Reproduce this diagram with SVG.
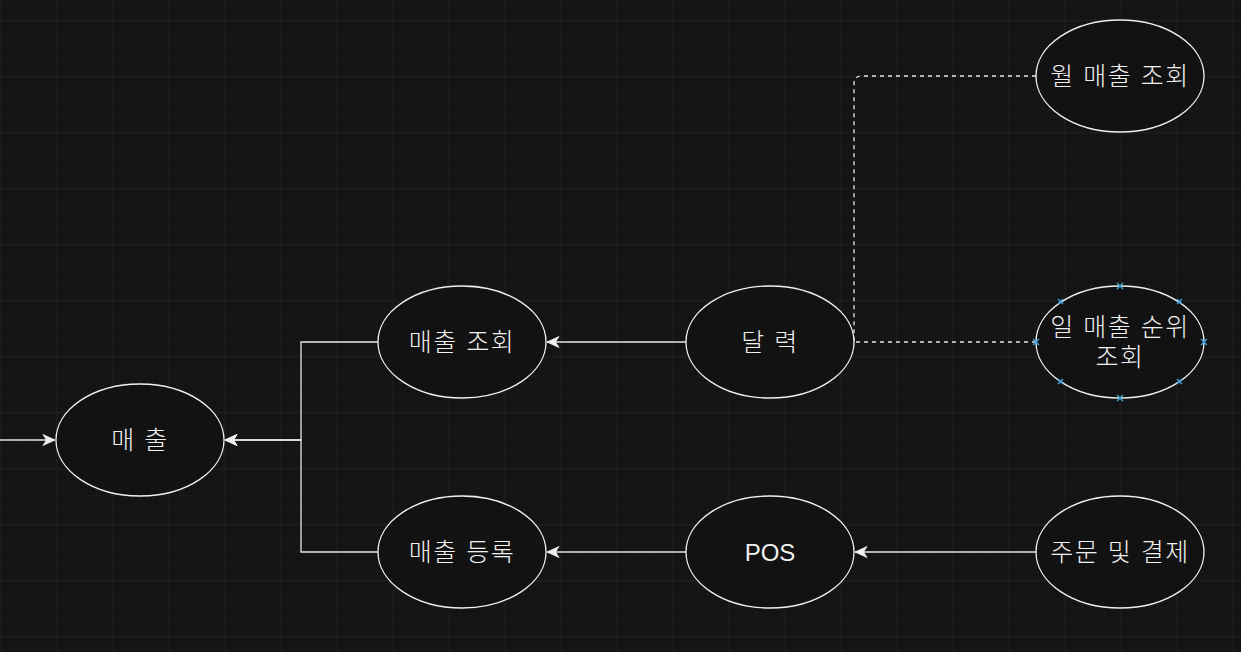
<svg xmlns="http://www.w3.org/2000/svg" width="1241" height="652" viewBox="0 0 1241 652">
<style>
.node ellipse{fill:#121212;stroke:#f0f0f0;stroke-width:1.3}
.node text{fill:#f0f0f0;font-family:"Liberation Sans","Noto Sans CJK KR",sans-serif;font-size:25px;font-weight:300;letter-spacing:1.5px;text-anchor:middle;dominant-baseline:central}
.node text.lat{font-size:24px;letter-spacing:0}
.edge{fill:none;stroke:#e6e6e6;stroke-width:1.3}
.dash{stroke-dasharray:4 4}
.sel{stroke:#3aa5e0;stroke-width:1.3;fill:none}
</style>
<defs>
<pattern id="minor" x="0" y="20" width="14" height="14" patternUnits="userSpaceOnUse">
<path d="M14 0V14M0 14H14" fill="none" stroke="#1c1c1c" stroke-width="1"/>
</pattern>
<pattern id="major" x="0.5" y="20.5" width="56" height="56" patternUnits="userSpaceOnUse">
<path d="M0 0V56M0 0H56" fill="none" stroke="#2c2c2c" stroke-width="1"/>
</pattern>
<marker id="arr" markerUnits="userSpaceOnUse" markerWidth="14" markerHeight="12" viewBox="0 0 14 12" refX="13" refY="6" orient="auto">
<path d="M13 6L1 0.5L4.5 6L1 11.5Z" fill="#f0f0f0" stroke="#f0f0f0" stroke-width="0.8"/>
</marker>
</defs>
<rect width="1241" height="652" fill="#141414"/>
<rect width="1241" height="652" fill="url(#minor)"/>
<rect width="1241" height="652" fill="url(#major)"/>
<g id="connectors">
<path class="edge" d="M0 440H55" marker-end="url(#arr)"/>
<path class="edge" d="M378 342H301V440H225" marker-end="url(#arr)"/>
<path class="edge" d="M378 552H301V440H225" marker-end="url(#arr)"/>
<path class="edge" d="M686 342H547" marker-end="url(#arr)"/>
<path class="edge" d="M686 552H547" marker-end="url(#arr)"/>
<path class="edge" d="M1036 552H855" marker-end="url(#arr)"/>
<path class="edge dash" d="M1036 76H862Q854 76 854 84V342"/>
<path class="edge dash" d="M1036 342H854"/>
</g>
<g id="n-sales" class="node"><ellipse cx="140" cy="440" rx="84" ry="56"/><text x="140" y="440">매 출</text></g>
<g id="n-sales-view" class="node"><ellipse cx="462" cy="342" rx="84" ry="56"/><text x="462" y="342">매출 조회</text></g>
<g id="n-sales-reg" class="node"><ellipse cx="462" cy="552" rx="84" ry="56"/><text x="462" y="552">매출 등록</text></g>
<g id="n-calendar" class="node"><ellipse cx="770" cy="342" rx="84" ry="56"/><text x="770" y="342">달 력</text></g>
<g id="n-pos" class="node"><ellipse cx="770" cy="552" rx="84" ry="56"/><text class="lat" x="770" y="552">POS</text></g>
<g id="n-monthly" class="node"><ellipse cx="1120" cy="76" rx="84" ry="56"/><text x="1120" y="76">월 매출 조회</text></g>
<g id="n-daily" class="node"><ellipse cx="1120" cy="342" rx="84" ry="56"/><text x="1120" y="327">일 매출 순위</text><text x="1120" y="357">조회</text>
<path class="sel" d="M1117 283l6 6m0-6l-6 6M1117 395l6 6m0-6l-6 6M1033 339l6 6m0-6l-6 6M1201 339l6 6m0-6l-6 6M1058 299l5 5m0-5l-5 5M1177 299l5 5m0-5l-5 5M1058 379l5 5m0-5l-5 5M1177 379l5 5m0-5l-5 5"/></g>
<g id="n-order" class="node"><ellipse cx="1120" cy="552" rx="84" ry="56"/><text x="1120" y="552">주문 및 결제</text></g>
</svg>
